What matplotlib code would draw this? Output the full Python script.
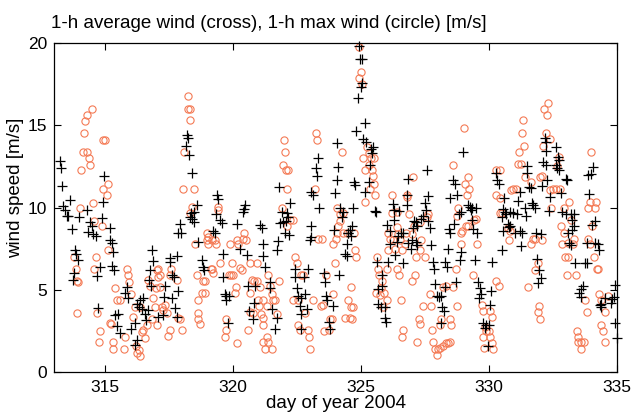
import matplotlib
matplotlib.use("Agg")
import matplotlib.pyplot as plt

title = "1-h average wind (cross), 1-h max wind (circle) [m/s]"
xlabel = "day of year 2004"
ylabel = "wind speed [m/s]"
xticks = [315, 320, 325, 330, 335]
yticks = [0, 5, 10, 15, 20]

avg_day = [
313.25,313.29,313.31,313.34,313.43,313.49,313.62,313.56,313.69,313.82,313.86,313.92,313.78,313.76,313.99,
314.28,314.41,314.47,314.34,314.54,314.64,314.86,314.90,314.95,315.19,315.19,315.25,315.32,315.25,315.34,
314.80,314.69,314.73,315.38,315.51,315.45,315.58,315.77,315.84,315.90,315.99,316.16,316.23,316.31,316.36,
316.42,316.49,316.55,316.59,316.68,316.75,316.78,316.82,316.85,316.16,316.23,316.72,317.08,
318.18,318.25,318.14,318.27,318.40,319.35,319.39,318.57,318.48,318.35,318.31,318.38,318.48,317.92,317.86,
317.96,318.61,319.32,319.48,319.55,319.22,319.29,320.46,320.43,320.40,320.17,320.27,319.61,320.53,318.77,
318.83,318.87,317.79,317.53,317.55,317.62,317.70,317.34,317.86,317.31,317.60,317.73,317.79,317.27,319.61,
319.68,319.74,319.71,319.84,319.78,320.57,320.62,
324.07,323.33,324.11,323.23,323.29,324.04,321.80,323.98,323.06,323.13,322.24,321.89,322.11,322.15,322.06,
321.96,321.85,323.36,324.17,324.24,324.28,321.05,321.11,322.02,322.19,323.03,323.06,323.00,323.94,324.50,
324.43,324.37,324.43,321.76,321.15,321.72,321.18,321.24,322.41,322.94,322.41,322.77,323.55,323.59,324.15,
320.85,321.44,321.46,322.48,322.54,322.80,322.67,323.62,323.68,323.91,320.81,320.76,321.50,321.70,322.61,
322.67,322.90,323.75,323.78,321.63,322.67,
324.91,324.95,325.02,325.04,324.99,324.86,325.17,324.82,325.08,325.21,325.47,325.38,325.41,325.34,327.56,
326.84,324.73,324.78,325.30,325.15,326.78,326.81,327.60,327.49,327.52,326.26,326.29,326.48,325.54,325.60,
324.69,327.43,327.36,327.08,327.13,327.60,327.69,327.20,327.04,326.29,326.03,326.12,324.63,324.56,324.60,
324.50,326.55,326.65,326.45,326.39,326.97,327.13,327.17,326.84,326.12,326.94,327.73,326.32,326.06,325.64,
326.65,327.82,327.86,325.83,325.80,325.67,327.88,327.95,328.04,325.67,325.77,325.93,325.93,325.99,
328.99,331.49,331.49,330.27,330.32,330.40,328.60,328.66,328.75,328.49,331.57,331.62,331.20,331.14,330.58,
329.18,329.25,329.35,329.48,329.28,328.92,328.83,330.55,330.62,330.68,330.81,330.94,331.40,331.66,331.72,
331.44,331.10,330.49,330.75,330.79,330.81,330.53,329.35,329.38,329.54,328.62,328.44,328.47,331.20,331.27,
331.01,331.23,328.40,328.89,328.86,330.49,329.45,330.10,328.27,328.34,328.70,328.27,329.57,329.64,329.67,
329.61,330.06,330.03,328.14,328.18,328.23,328.14,329.77,329.87,330.00,329.84,329.97,
332.18,332.22,332.60,332.21,332.70,332.73,332.12,332.21,332.60,332.67,332.73,334.07,333.98,333.87,332.99,
333.03,332.28,332.07,333.90,332.38,332.83,331.79,332.34,332.86,332.99,333.22,333.33,333.25,334.13,334.03,
333.33,333.25,331.85,332.02,333.09,333.12,333.20,333.81,334.13,334.24,334.29,333.35,333.74,333.81,331.89,
331.95,332.02,331.92,334.91,333.68,333.61,333.51,333.61,334.52,334.81,334.89,334.76,334.39,334.39,334.33,
334.91,334.99,
]
avg_speed = [
12.8,12.4,11.3,10.1,9.85,9.5,10.45,9.5,8.7,7.4,7.2,6.8,6.0,5.6,9.45,
9.85,9.1,8.9,8.5,8.4,8.25,9.35,10.35,11.9,8.75,8.0,7.85,7.3,6.45,6.2,
6.4,5.85,3.9,3.45,3.55,2.8,2.35,4.8,5.15,4.5,2.6,3.0,4.15,3.95,4.4,
3.85,4.5,3.55,3.15,3.75,6.2,5.2,7.4,6.75,1.65,1.95,5.6,3.35,
14.4,14.2,13.75,13.2,12.1,10.75,10.5,10.15,9.75,9.65,9.45,9.3,9.1,9.0,8.45,
8.45,7.9,9.6,9.25,9.05,8.6,8.45,10.15,9.9,9.7,9.0,7.5,7.15,7.1,6.8,
6.4,6.2,7.05,6.9,6.7,5.9,5.75,5.2,4.95,4.55,4.5,3.9,3.35,3.45,5.75,
4.75,4.6,4.4,4.6,2.95,5.25,3.7,
13.95,13.0,12.45,12.4,11.9,11.7,11.25,10.9,10.95,10.75,10.25,9.75,9.65,9.45,9.15,
9.1,9.05,9.95,9.95,9.45,9.75,8.95,8.75,8.45,8.3,8.85,8.2,8.0,8.65,8.45,
7.8,7.2,7.05,7.95,7.8,7.4,7.05,6.4,6.25,6.25,5.75,5.75,6.0,5.45,5.9,
5.2,5.5,5.1,5.1,4.6,4.75,4.5,4.6,4.4,4.0,4.2,3.25,3.8,3.3,4.0,
3.55,3.85,3.05,2.6,2.6,2.6,
19.8,19.0,19.0,17.55,17.3,16.65,15.15,14.65,14.15,14.0,13.7,13.55,13.3,12.6,12.25,
11.75,11.55,11.35,11.55,10.95,10.75,10.15,10.7,10.3,9.85,10.2,9.85,9.8,9.8,9.75,
9.95,9.5,9.3,9.2,9.1,9.15,8.75,8.85,8.75,9.25,8.95,8.55,8.85,8.65,8.25,
8.45,8.45,8.45,8.25,7.9,8.0,7.9,7.75,7.85,7.8,7.45,7.7,7.1,6.7,6.7,
6.65,6.7,6.25,5.9,5.25,5.05,5.35,4.6,4.55,4.15,3.95,3.95,3.3,3.05,
13.35,12.5,12.1,12.1,11.65,11.45,11.7,11.45,10.75,10.55,11.25,11.2,10.95,10.4,10.55,
10.15,10.05,9.95,10.0,9.85,9.75,9.6,9.9,9.75,9.6,9.75,9.65,9.95,10.3,10.15,
9.5,9.6,9.45,9.0,8.8,8.9,8.55,9.25,8.7,8.45,9.0,8.7,8.45,8.55,8.45,
8.45,7.65,7.5,7.3,6.8,7.4,6.8,6.7,6.7,6.4,5.45,5.15,5.5,5.1,4.75,
4.5,4.9,4.1,4.6,3.95,3.7,2.95,3.0,2.85,2.85,2.65,1.6,
14.2,14.0,13.65,13.45,13.05,12.9,12.75,12.6,12.6,12.4,12.3,12.45,12.05,12.0,11.75,
11.65,11.65,11.3,10.8,10.65,10.9,9.95,9.8,9.75,9.6,9.6,9.6,9.25,9.15,8.95,
8.85,8.65,8.45,8.4,8.45,7.85,7.75,7.85,7.85,7.8,7.4,6.65,6.65,6.6,6.85,
6.2,5.7,5.4,5.3,5.2,5.05,4.8,4.55,4.5,4.45,4.55,4.2,4.15,3.95,4.05,
2.95,2.05,
]

max_day = [
314.47,314.28,314.21,314.17,314.93,314.99,314.12,314.28,314.38,314.41,314.04,315.10,314.90,315.06,314.51,
314.02,314.58,314.86,315.12,313.78,314.63,313.86,314.58,313.95,313.88,313.91,314.69,315.84,315.90,315.94,
315.99,315.38,315.45,315.58,316.68,316.75,317.03,317.08,317.00,316.95,316.16,316.07,316.36,315.19,315.22,
314.80,314.77,315.29,315.32,315.73,315.77,316.20,316.25,316.33,316.36,316.46,316.55,316.42,316.82,317.01,
316.65,316.85,
318.25,318.22,318.31,318.31,318.09,318.05,318.48,318.40,319.42,319.39,318.31,318.96,319.03,318.96,319.16,
319.29,319.03,319.32,318.51,319.88,320.43,320.40,320.49,320.17,320.20,319.97,319.91,320.00,319.84,320.36,
320.27,319.16,319.22,319.13,318.57,318.83,318.90,319.48,320.10,320.07,318.79,318.90,318.61,317.07,317.14,
317.15,317.57,317.53,317.79,317.34,317.21,317.27,317.40,317.83,317.92,318.61,318.64,318.70,317.53,317.47,
318.01,319.71,319.74,319.68,320.14,320.59,
323.23,323.26,321.98,324.24,322.02,321.93,322.06,322.15,323.19,322.11,321.89,324.07,324.30,324.17,322.24,
322.32,322.09,324.17,324.11,324.07,324.30,324.46,324.02,323.91,323.33,323.46,320.92,322.41,322.48,323.98,
322.67,322.74,323.62,320.66,320.72,320.81,320.92,321.05,321.37,321.80,321.44,321.50,321.57,321.63,320.66,
320.98,321.18,321.00,321.33,320.66,320.76,321.07,321.15,321.15,321.70,322.35,322.54,323.13,323.42,323.52,
323.89,323.78,323.85,322.80,322.54,322.61,322.94,322.97,323.55,323.75,321.31,321.18,321.37,321.24,321.50,
323.00,
324.91,324.99,324.91,325.04,325.25,325.30,325.08,325.38,325.51,325.30,325.17,325.47,325.43,325.51,325.34,
325.56,325.15,327.04,326.19,326.81,326.78,324.73,326.19,326.42,326.87,327.62,327.56,327.30,327.08,326.39,
326.74,326.97,326.06,326.45,326.12,326.26,326.52,327.36,326.71,326.32,326.06,326.58,327.30,327.49,327.13,
324.76,324.82,325.64,325.67,326.03,325.70,326.42,326.48,327.10,326.97,325.83,325.77,324.60,325.60,325.73,
325.90,326.00,324.50,324.60,324.69,324.56,324.37,324.63,326.55,325.86,327.69,327.43,327.73,327.26,327.30,
327.78,326.65,326.61,327.20,327.82,327.88,328.01,327.95,
329.01,331.31,331.27,331.36,331.18,331.14,331.23,328.60,329.18,329.06,329.22,329.15,331.40,331.62,331.98,
330.42,330.29,330.94,331.07,330.84,330.27,330.42,328.79,329.41,329.48,330.42,330.49,328.73,329.18,329.09,
328.96,328.89,330.81,330.75,330.79,331.70,331.62,328.92,329.54,328.70,329.38,330.27,330.40,331.53,331.79,
328.60,328.31,328.21,328.73,329.71,329.77,330.03,330.13,328.47,328.53,328.08,328.14,329.84,329.90,330.00,
329.77,330.03,330.10,330.16,329.80,328.08,328.21,328.31,328.40,328.49,
332.31,332.15,332.28,332.21,332.38,332.11,332.73,334.00,332.64,332.07,332.50,332.60,332.38,332.77,333.12,
333.94,334.16,333.87,334.13,332.41,332.94,333.22,334.03,332.83,332.94,333.33,333.85,331.79,332.05,332.86,
333.29,333.09,333.94,332.96,333.09,334.11,331.92,334.20,334.26,333.03,333.38,334.29,333.74,334.65,334.39,
331.95,331.92,331.98,333.81,334.55,334.37,334.46,333.42,333.46,333.48,333.61,333.72,333.61,334.52,
]
max_speed = [
16.0,15.6,15.25,14.5,14.1,14.1,13.4,13.35,13.0,12.6,12.25,11.45,11.1,10.75,10.3,
10.0,9.2,8.9,7.4,7.0,7.0,6.25,6.25,5.5,5.55,3.6,3.6,6.25,5.9,5.5,
4.75,5.1,4.4,4.4,5.6,5.2,6.2,5.8,5.1,3.95,3.95,3.35,3.95,2.95,2.9,
2.5,1.8,1.85,1.4,1.4,2.15,1.6,1.15,1.35,1.0,2.55,2.05,2.45,3.2,2.85,
2.85,4.5,
16.75,16.0,16.0,15.3,13.4,11.15,11.1,10.05,10.05,9.85,9.65,8.45,8.2,8.05,8.0,
8.05,7.8,7.8,7.8,7.8,8.45,8.1,8.0,8.0,7.8,6.65,5.9,5.9,5.9,6.2,
6.3,6.25,6.0,6.25,5.9,5.55,5.55,6.65,5.15,4.8,4.8,4.8,4.4,6.25,5.9,
5.15,6.25,5.9,5.6,4.1,3.95,3.75,3.6,3.3,3.25,3.6,3.25,2.9,2.55,2.2,
2.55,3.25,2.55,2.15,1.75,2.55,
14.5,14.1,14.1,13.35,13.35,12.6,12.3,12.25,11.1,11.1,10.0,10.0,9.65,9.6,9.25,
9.25,8.85,9.2,8.85,8.45,8.45,8.45,8.1,7.8,8.1,8.1,6.65,7.0,6.65,6.65,
5.9,5.9,5.9,6.65,5.6,5.55,5.55,5.15,5.9,5.55,5.2,4.75,4.4,4.4,4.8,
4.4,4.4,4.0,4.0,3.65,3.6,3.55,3.3,2.85,3.55,4.4,4.4,4.4,4.0,4.05,
4.75,3.25,3.25,3.6,2.85,2.55,2.55,2.15,2.5,2.55,2.15,1.8,1.8,1.4,1.4,
1.4,
19.75,18.25,17.9,17.5,13.7,13.3,13.0,13.0,13.0,12.6,12.3,11.9,12.3,11.45,11.15,
10.75,10.35,11.85,10.75,10.75,10.65,8.45,9.65,9.7,9.6,9.6,9.45,9.1,8.9,8.8,
8.45,8.4,8.45,8.4,8.1,8.05,8.0,8.05,7.8,7.5,7.4,7.4,7.4,7.0,7.0,
7.4,7.0,7.0,6.25,6.25,5.9,6.25,5.9,5.9,5.55,5.55,5.1,5.15,4.8,4.7,
4.8,4.35,4.4,3.95,3.95,3.3,3.3,3.25,4.4,3.95,4.75,4.0,4.0,3.25,2.9,
2.55,2.55,2.15,1.8,1.85,1.4,1.4,1.05,
14.85,15.3,14.5,13.75,13.35,12.65,12.65,12.6,11.85,11.45,11.1,10.75,11.85,11.55,11.85,
12.3,12.25,11.15,11.15,11.05,10.75,10.55,10.0,9.25,9.3,9.65,9.65,9.5,8.9,8.9,
8.55,8.45,8.6,8.75,8.05,8.1,7.8,7.8,7.8,6.25,5.9,5.55,5.2,5.15,6.2,
5.15,5.2,5.15,4.0,4.05,3.7,3.7,3.35,3.25,2.85,2.85,3.25,2.75,2.5,2.5,
2.15,2.15,1.75,1.4,1.45,1.45,1.6,1.75,1.75,1.8,
16.35,16.0,15.6,14.5,14.15,13.75,13.05,13.35,12.5,11.9,11.1,11.1,11.05,11.1,10.35,
10.35,10.35,10.0,10.0,10.0,10.0,9.25,8.85,8.9,8.45,8.1,8.1,8.1,8.05,7.8,
7.8,7.85,7.8,7.0,7.0,7.0,6.65,6.25,6.25,5.9,5.9,4.75,4.4,4.6,4.35,
4.0,3.65,3.25,3.65,3.65,2.85,2.5,2.5,2.15,1.8,1.8,1.8,1.4,1.8,
]

plt.rcParams['font.family'] = ['Liberation Sans', 'DejaVu Sans']
fig = plt.figure(figsize=(6.37, 4.16), dpi=100)
ax = fig.add_axes([54/637, 1 - 372/416, (617 - 54)/637, (372 - 43)/416])

ax.plot(max_day, max_speed, linestyle='none', marker='o', ms=5.2,
        mfc='none', mec='#f47a55', mew=0.8, clip_on=False)
ax.plot(avg_day, avg_speed, linestyle='none', marker='+', ms=6.5,
        color='black', mew=0.9, clip_on=False)

ax.set_xlim(313, 335)
ax.set_ylim(0, 20)
ax.set_xticks(xticks)
ax.set_yticks(yticks)
ax.tick_params(direction='in', top=True, right=True, length=5, width=0.8,
               labelsize=12.5, pad=6)
ax.tick_params(axis='y', pad=5)
for s in ax.spines.values():
    s.set_linewidth(0.9)
ax.set_xlabel(xlabel, fontsize=13.5, labelpad=0)
ax.set_ylabel(ylabel, fontsize=13.5)
ax.yaxis.set_label_coords(-0.054, 0.56)
fig.text(51/637, 1 - 28/416, title, fontsize=13.5, ha='left', va='baseline')

fig.savefig("out.png", dpi=100)
